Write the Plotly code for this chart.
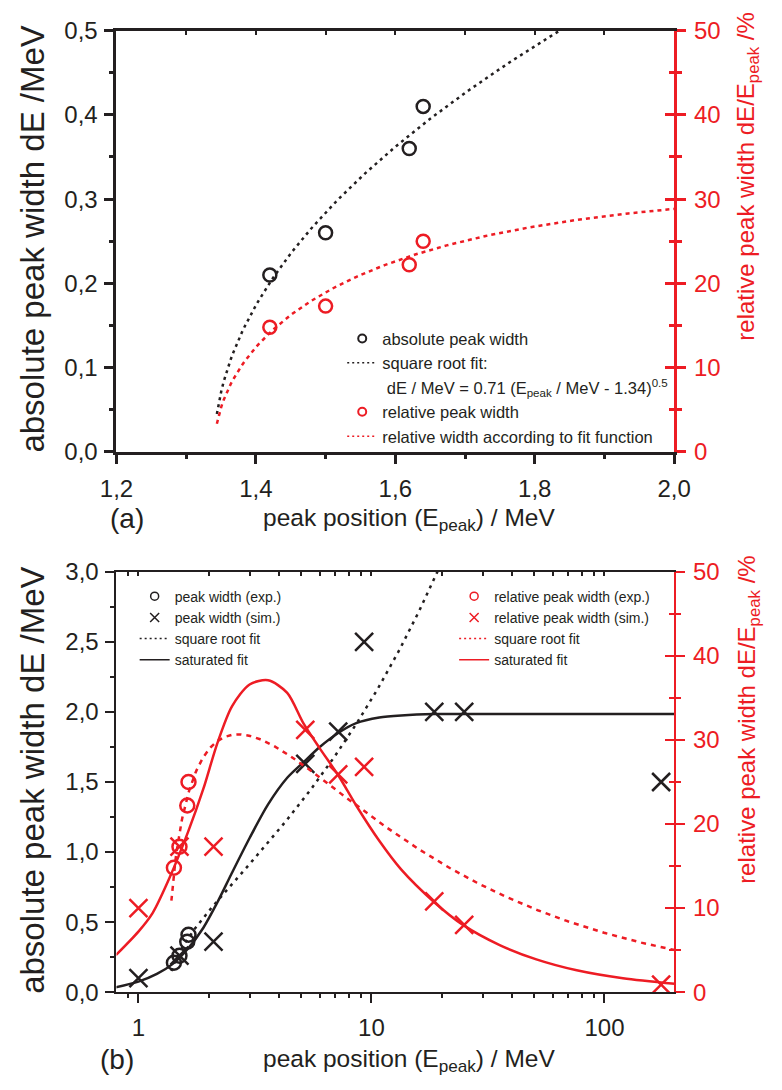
import numpy as np
import plotly.graph_objects as go

W, H = 782, 1090
RED = "#ED1C24"
BLACK = "#231F20"
FONT = "Liberation Sans, Arial, Helvetica, sans-serif"

# ---------------- data ----------------
# experimental peaks
E_exp = [1.42, 1.50, 1.62, 1.64]
width_exp = [0.21, 0.26, 0.36, 0.41]
rel_exp = [14.8, 17.3, 22.2, 25.0]

# simulated peaks
E_sim = [1.0, 1.5, 2.1, 5.2, 7.2, 9.3, 18.6, 25.0, 175.0]
width_sim = [0.10, 0.26, 0.36, 1.63, 1.86, 2.50, 2.00, 2.00, 1.50]
rel_sim = [10.0, 17.3, 17.3, 31.2, 25.9, 26.8, 10.8, 8.0, 0.9]

# square root fit parameters (as printed in the legend)
FIT_A = 0.71
FIT_E0 = 1.34

# saturated fit
sat_E = [0.8, 1.0, 1.2, 1.4, 1.63, 1.9, 2.18, 2.5, 3.0, 3.6, 4.35, 5.1, 6.0,
         7.2, 8.6, 10.8, 13.4, 18.6, 25.0, 50.0, 100.0, 200.0]
sat_width = [0.035, 0.075, 0.13, 0.20, 0.31, 0.46, 0.64, 0.84, 1.10, 1.34,
             1.53, 1.64, 1.75, 1.85, 1.92, 1.96, 1.975, 1.985, 1.985, 1.985,
             1.985, 1.985]
sat_rel_E = [0.8, 1.0, 1.15, 1.36, 1.63, 1.9, 2.18, 2.52, 3.0, 3.6, 4.35, 5.1,
             6.0, 7.2, 8.6, 10.8, 13.4, 18.6, 24.7, 35.5, 51.0, 76.0, 120.0, 200.0]
sat_rel = [4.4, 7.2, 9.4, 13.6, 19.0, 24.2, 29.6, 34.0, 36.6, 37.1, 35.6, 32.0,
           29.0, 25.8, 22.2, 18.0, 14.6, 10.7, 8.0, 5.6, 3.9, 2.6, 1.65, 0.99]

# tick labels
top_x_ticks = [1.2, 1.4, 1.6, 1.8, 2.0]
bot_x_ticks = [1, 10, 100]
bot_x_ticktext = ["1", "10", "100"]
bot_x_minor = [0.9, 2, 3, 4, 5, 6, 7, 8, 9, 20, 30, 40, 50, 60, 70, 80, 90, 200]

# fit curves from the printed fit function
top_fit_E = np.linspace(1.344, 2.0, 200)
top_fit_w = FIT_A * np.sqrt(top_fit_E - FIT_E0)
top_fit_rel = 100 * top_fit_w / top_fit_E
bot_fit_E = np.geomspace(1.385, 200, 500)
bot_fit_w = FIT_A * np.sqrt(bot_fit_E - FIT_E0)
bot_fit_rel = 100 * bot_fit_w / bot_fit_E


def fx(px):
    return px / W


def fy(py):
    return 1 - py / H


fig = go.Figure()

# ---------------- top panel ----------------
fig.add_trace(go.Scatter(x=top_fit_E, y=top_fit_w, mode="lines", xaxis="x", yaxis="y",
                         line=dict(color=BLACK, width=2.5, dash="3px,4px"),
                         showlegend=False, hoverinfo="skip"))
fig.add_trace(go.Scatter(x=top_fit_E, y=top_fit_rel, mode="lines", xaxis="x", yaxis="y2",
                         line=dict(color=RED, width=2.5, dash="4px,4px"),
                         showlegend=False, hoverinfo="skip"))
fig.add_trace(go.Scatter(x=E_exp, y=width_exp, mode="markers", xaxis="x", yaxis="y",
                         marker=dict(symbol="circle-open", size=13, color=BLACK,
                                     line=dict(width=2.5, color=BLACK)),
                         showlegend=False))
fig.add_trace(go.Scatter(x=E_exp, y=rel_exp, mode="markers", xaxis="x", yaxis="y2",
                         marker=dict(symbol="circle-open", size=13, color=RED,
                                     line=dict(width=2.5, color=RED)),
                         showlegend=False))
# empty helper traces for overlay axes
for xa, ya in [("x3", "y"), ("x", "y5"), ("x4", "y3"), ("x2", "y6")]:
    fig.add_trace(go.Scatter(x=[], y=[], xaxis=xa, yaxis=ya, showlegend=False, hoverinfo="skip"))

# top legend entries
LEG_NONE = [None]
fig.add_trace(go.Scatter(x=LEG_NONE, y=LEG_NONE, mode="markers", name="absolute peak width",
                         marker=dict(symbol="circle-open", size=8, color=BLACK, line=dict(width=2, color=BLACK)),
                         legend="legend"))
fig.add_trace(go.Scatter(x=LEG_NONE, y=LEG_NONE, mode="lines", name="square root fit:",
                         line=dict(color=BLACK, width=1.5, dash="2px,3px"), legend="legend"))
fig.add_trace(go.Scatter(x=LEG_NONE, y=LEG_NONE, mode="lines",
                         name=" dE / MeV = 0.71 (E<sub>peak</sub> / MeV - 1.34)<sup>0.5</sup>",
                         line=dict(color="rgba(0,0,0,0)", width=0), legend="legend"))
fig.add_trace(go.Scatter(x=LEG_NONE, y=LEG_NONE, mode="markers", name="relative peak width",
                         marker=dict(symbol="circle-open", size=8, color=RED, line=dict(width=2, color=RED)),
                         legend="legend"))
fig.add_trace(go.Scatter(x=LEG_NONE, y=LEG_NONE, mode="lines", name="relative width according to fit function",
                         line=dict(color=RED, width=1.5, dash="2px,3px"), legend="legend"))

# ---------------- bottom panel ----------------
fig.add_trace(go.Scatter(x=sat_rel_E, y=sat_rel, mode="lines", xaxis="x2", yaxis="y4",
                         line=dict(color=RED, width=2.5, shape="spline", smoothing=0.8),
                         showlegend=False, hoverinfo="skip"))
fig.add_trace(go.Scatter(x=bot_fit_E, y=bot_fit_rel, mode="lines", xaxis="x2", yaxis="y4",
                         line=dict(color=RED, width=2.5, dash="5px,5px"), showlegend=False, hoverinfo="skip"))
fig.add_trace(go.Scatter(x=sat_E, y=sat_width, mode="lines", xaxis="x2", yaxis="y3",
                         line=dict(color=BLACK, width=2.5, shape="spline", smoothing=0.8),
                         showlegend=False, hoverinfo="skip"))
fig.add_trace(go.Scatter(x=bot_fit_E, y=bot_fit_w, mode="lines", xaxis="x2", yaxis="y3",
                         line=dict(color=BLACK, width=2.5, dash="3px,5px"), showlegend=False, hoverinfo="skip"))
fig.add_trace(go.Scatter(x=E_exp, y=width_exp, mode="markers", xaxis="x2", yaxis="y3",
                         marker=dict(symbol="circle-open", size=14, color=BLACK, line=dict(width=2.5, color=BLACK)),
                         showlegend=False))
fig.add_trace(go.Scatter(x=E_sim, y=width_sim, mode="markers", xaxis="x2", yaxis="y3",
                         marker=dict(symbol="x-thin-open", size=18, color=BLACK, line=dict(width=2.5, color=BLACK)),
                         showlegend=False))
fig.add_trace(go.Scatter(x=E_exp, y=rel_exp, mode="markers", xaxis="x2", yaxis="y4",
                         marker=dict(symbol="circle-open", size=14, color=RED, line=dict(width=2.5, color=RED)),
                         showlegend=False))
fig.add_trace(go.Scatter(x=E_sim, y=rel_sim, mode="markers", xaxis="x2", yaxis="y4",
                         marker=dict(symbol="x-thin-open", size=18, color=RED, line=dict(width=2.5, color=RED)),
                         showlegend=False))

# bottom legends
for col, lg, names in [(BLACK, "legend2", ["peak width (exp.)", "peak width (sim.)", "square root fit", "saturated fit"]),
                       (RED, "legend3", ["relative peak width (exp.)", "relative peak width (sim.)", "square root fit", "saturated fit"])]:
    fig.add_trace(go.Scatter(x=LEG_NONE, y=LEG_NONE, mode="markers", name=names[0], legend=lg,
                             marker=dict(symbol="circle-open", size=8, color=col, line=dict(width=1.5, color=col))))
    fig.add_trace(go.Scatter(x=LEG_NONE, y=LEG_NONE, mode="markers", name=names[1], legend=lg,
                             marker=dict(symbol="x-thin-open", size=9, color=col, line=dict(width=1.5, color=col))))
    fig.add_trace(go.Scatter(x=LEG_NONE, y=LEG_NONE, mode="lines", name=names[2], legend=lg,
                             line=dict(color=col, width=1.5, dash="2px,3px")))
    fig.add_trace(go.Scatter(x=LEG_NONE, y=LEG_NONE, mode="lines", name=names[3], legend=lg,
                             line=dict(color=col, width=1.5)))

# ---------------- axes ----------------
XD = [fx(104), fx(687)]
TOP_D = [fy(449), fy(17)]
BOT_D = [fy(1003), fy(572)]
tickfont = dict(family=FONT, size=24, color=BLACK)
redfont = dict(family=FONT, size=24, color=RED)

common = dict(showgrid=False, zeroline=False, showline=True, ticks="outside")

fig.update_layout(
    xaxis=dict(domain=XD, anchor="y", range=[1.2, 2.0], tickvals=top_x_ticks, tickformat=".1f",
               ticklen=9, tickwidth=2.5, tickcolor=BLACK, linecolor=BLACK, linewidth=3,
               ticklabelstandoff=4,
               minor=dict(dtick=0.1, tick0=1.2, ticks="outside", ticklen=4, tickwidth=2.5, tickcolor=BLACK),
               tickfont=tickfont, **common),
    xaxis3=dict(domain=XD, anchor="y", overlaying="x", side="top", range=[1.2, 2.0],
                showgrid=False, zeroline=False, showline=True, linecolor=BLACK, linewidth=3,
                ticks="inside", dtick=0.1, tick0=1.2, ticklen=4, tickwidth=2, tickcolor=BLACK,
                showticklabels=False),
    yaxis=dict(domain=TOP_D, anchor="x", range=[0, 0.5], dtick=0.1, tick0=0, tickformat=".1f",
               ticklen=9, tickwidth=2.5, tickcolor=BLACK, linecolor=BLACK, linewidth=3,
               ticklabelstandoff=2,
               minor=dict(dtick=0.05, tick0=0, ticks="outside", ticklen=4, tickwidth=2.5, tickcolor=BLACK),
               tickfont=tickfont, **common),
    yaxis2=dict(domain=TOP_D, anchor="x", overlaying="y", side="right", range=[0, 50], dtick=10, tick0=0,
                ticklen=9, tickwidth=3, tickcolor=RED, linecolor=RED, linewidth=3,
                ticklabelstandoff=3,
                minor=dict(dtick=5, tick0=0, ticks="outside", ticklen=5, tickwidth=2.5, tickcolor=RED),
                tickfont=redfont, **common),
    yaxis5=dict(domain=TOP_D, anchor="x", overlaying="y", side="right", range=[0, 50], dtick=10, tick0=0,
                showgrid=False, zeroline=False, showline=False, ticks="inside", ticklen=9, tickwidth=3,
                tickcolor=RED, showticklabels=False,
                minor=dict(dtick=5, tick0=0, ticks="inside", ticklen=5, tickwidth=2.5, tickcolor=RED)),

    xaxis2=dict(domain=XD, anchor="y3", type="log", range=[np.log10(0.805), np.log10(199)],
                tickvals=bot_x_ticks, ticktext=bot_x_ticktext,
                ticklen=9, tickwidth=2, tickcolor=BLACK, linecolor=BLACK, linewidth=2,
                ticklabelstandoff=4,
                minor=dict(tickvals=bot_x_minor, ticks="outside", ticklen=4, tickwidth=2, tickcolor=BLACK),
                tickfont=tickfont, **common),
    xaxis4=dict(domain=XD, anchor="y3", overlaying="x2", side="top", type="log",
                range=[np.log10(0.805), np.log10(199)],
                showgrid=False, zeroline=False, showline=True, linecolor=BLACK, linewidth=1.5,
                ticks="inside", tickvals=bot_x_ticks + bot_x_minor, ticklen=4, tickwidth=1.5,
                tickcolor=BLACK, showticklabels=False),
    yaxis3=dict(domain=BOT_D, anchor="x2", range=[0, 3.0], dtick=0.5, tick0=0, tickformat=".1f",
                ticklen=9, tickwidth=2, tickcolor=BLACK, linecolor=BLACK, linewidth=2,
                ticklabelstandoff=2,
                minor=dict(dtick=0.25, tick0=0, ticks="outside", ticklen=4, tickwidth=2, tickcolor=BLACK),
                tickfont=tickfont, **common),
    yaxis4=dict(domain=BOT_D, anchor="x2", overlaying="y3", side="right", range=[0, 50], dtick=10, tick0=0,
                ticklen=9, tickwidth=2, tickcolor=RED, linecolor=RED, linewidth=2,
                ticklabelstandoff=3,
                minor=dict(dtick=5, tick0=0, ticks="outside", ticklen=5, tickwidth=2, tickcolor=RED),
                tickfont=redfont, **common),
    yaxis6=dict(domain=BOT_D, anchor="x2", overlaying="y3", side="right", range=[0, 50], dtick=10, tick0=0,
                showgrid=False, zeroline=False, showline=False, ticks="inside", ticklen=9, tickwidth=2,
                tickcolor=RED, showticklabels=False,
                minor=dict(dtick=5, tick0=0, ticks="inside", ticklen=5, tickwidth=2, tickcolor=RED)),
)

# ---------------- legends ----------------
fig.update_layout(
    legend=dict(x=fx(340), y=fy(315), xanchor="left", yanchor="top", bgcolor="rgba(0,0,0,0)",
                font=dict(family=FONT, size=16.5, color=BLACK), traceorder="normal", itemwidth=30),
    legend2=dict(x=fx(123), y=fy(581), xanchor="left", yanchor="top", bgcolor="rgba(0,0,0,0)",
                 font=dict(family=FONT, size=14, color=BLACK), traceorder="normal", itemwidth=30),
    legend3=dict(x=fx(457), y=fy(581), xanchor="left", yanchor="top", bgcolor="rgba(0,0,0,0)",
                 font=dict(family=FONT, size=14, color=BLACK), traceorder="normal", itemwidth=30),
)

# ---------------- texts ----------------
ann = []
xt = "peak position (E<sub>peak</sub>) / MeV"
lt = "absolute peak width dE /MeV"
rt = "relative peak width dE/E<sub>peak</sub> /%"
for (pa, pa_x, xtitle_y, ltitle_y, rtitle_y) in [("(a)", 115, 518, 231, 166), ("(b)", 105, 1073, 786, 723)]:
    ann.append(dict(text=pa, x=fx(pa_x), y=fy(xtitle_y - 1), xref="paper", yref="paper",
                    showarrow=False, xanchor="center", yanchor="middle",
                    font=dict(family=FONT, size=28, color=BLACK)))
    ann.append(dict(text=xt, x=fx(410), y=fy(xtitle_y), xref="paper", yref="paper",
                    showarrow=False, xanchor="center", yanchor="middle",
                    font=dict(family=FONT, size=24.5, color=BLACK)))
    ann.append(dict(text=lt, x=fx(16), y=fy(ltitle_y), xref="paper", yref="paper",
                    showarrow=False, xanchor="center", yanchor="middle", textangle=-90,
                    font=dict(family=FONT, size=33, color=BLACK)))
    ann.append(dict(text=rt, x=fx(764), y=fy(rtitle_y), xref="paper", yref="paper",
                    showarrow=False, xanchor="center", yanchor="middle", textangle=-90,
                    font=dict(family=FONT, size=24, color=RED)))

fig.update_layout(
    annotations=ann,
    width=W, height=H,
    margin=dict(l=0, r=0, t=0, b=0),
    paper_bgcolor="white", plot_bgcolor="rgba(0,0,0,0)",
    separators=",.",
    font=dict(family=FONT, color=BLACK),
    showlegend=True,
)

fig.write_html("out.html",
               config={"displayModeBar": False},
               post_script="document.body.style.margin='0';document.body.style.overflow='hidden';")
